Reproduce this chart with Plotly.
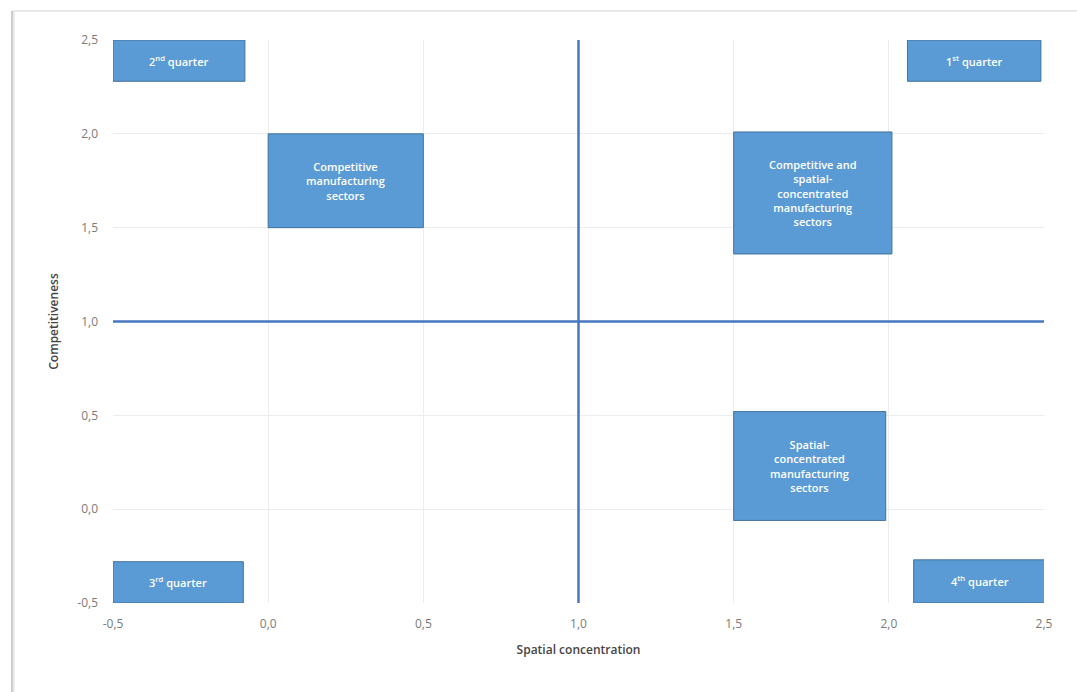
import plotly.graph_objects as go

# Quadrant divider lines
divider_x = [1.0]
divider_y = [1.0]
x_range = [-0.5, 2.5]
y_range = [-0.5, 2.5]

# Text boxes: labels and their extents in data units
box_labels = [
    "2<sup>nd</sup> quarter",
    "1<sup>st</sup> quarter",
    "Competitive<br>manufacturing<br>sectors",
    "Competitive and<br>spatial-<br>concentrated<br>manufacturing<br>sectors",
    "Spatial-<br>concentrated<br>manufacturing<br>sectors",
    "3<sup>rd</sup> quarter",
    "4<sup>th</sup> quarter",
]
box_x0 = [-0.5, 2.06, 0.0, 1.5, 1.5, -0.5, 2.08]
box_x1 = [-0.075, 2.49, 0.5, 2.01, 1.99, -0.08, 2.51]
box_y0 = [2.28, 2.28, 1.5, 1.36, -0.06, -0.5, -0.5]
box_y1 = [2.5, 2.5, 2.0, 2.01, 0.52, -0.28, -0.27]

tick_vals = [-0.5, 0.0, 0.5, 1.0, 1.5, 2.0, 2.5]
tick_labels = ["-0,5", "0,0", "0,5", "1,0", "1,5", "2,0", "2,5"]

line_color = "#4677c0"
box_fill = "#5b9bd5"
box_edge = "#41719c"

fig = go.Figure()

fig.add_trace(go.Scatter(x=[divider_x[0], divider_x[0]], y=y_range, mode="lines",
                         line=dict(color=line_color, width=2.5), hoverinfo="skip",
                         showlegend=False))
fig.add_trace(go.Scatter(x=x_range, y=[divider_y[0], divider_y[0]], mode="lines",
                         line=dict(color=line_color, width=2.5), hoverinfo="skip",
                         showlegend=False))

for lab, x0, x1, y0, y1 in zip(box_labels, box_x0, box_x1, box_y0, box_y1):
    fig.add_shape(type="rect", xref="x", yref="y", x0=x0, x1=x1, y0=y0, y1=y1,
                  fillcolor=box_fill, line=dict(color=box_edge, width=1), layer="above")
    fig.add_annotation(x=(x0 + x1) / 2, y=(y0 + y1) / 2, xref="x", yref="y",
                       text=lab, showarrow=False, align="center",
                       font=dict(family="Open Sans", size=11, color="white", weight=600))

# Frame around the picture
fig.add_shape(type="line", xref="paper", yref="paper", x0=-0.1085, x1=1.04, y0=1.0515, y1=1.0515,
              line=dict(color="#e3e3e3", width=1.5))
fig.add_shape(type="line", xref="paper", yref="paper", x0=-0.1085, x1=-0.1085, y0=1.0515, y1=-0.16,
              line=dict(color="#bdbdbd", width=1.5))
fig.add_shape(type="line", xref="paper", yref="paper", x0=-0.1065, x1=-0.1065, y0=1.05, y1=-0.16,
              line=dict(color="#e6e6e6", width=1.5))

axis_common = dict(
    tickvals=tick_vals, ticktext=tick_labels, showgrid=True, gridcolor="#ececec", gridwidth=1,
    zeroline=False, showline=False, ticks="",
    tickfont=dict(family="Open Sans", size=12, color="#7a7a7a"),
)

fig.update_layout(
    width=1077, height=692,
    margin=dict(l=113, r=33, t=40, b=89),
    paper_bgcolor="white", plot_bgcolor="white",
    xaxis=dict(range=x_range, ticklabelstandoff=12,
               title=dict(text="Spatial concentration", standoff=14,
                          font=dict(family="Open Sans", size=12, color="#444444", weight=600)),
               **axis_common),
    yaxis=dict(range=y_range, ticklabelstandoff=14,
               title=dict(text="Competitiveness", standoff=16,
                          font=dict(family="Open Sans", size=12, color="#444444", weight=600)),
               **axis_common),
    showlegend=False,
)

fig.write_html("out.html")
